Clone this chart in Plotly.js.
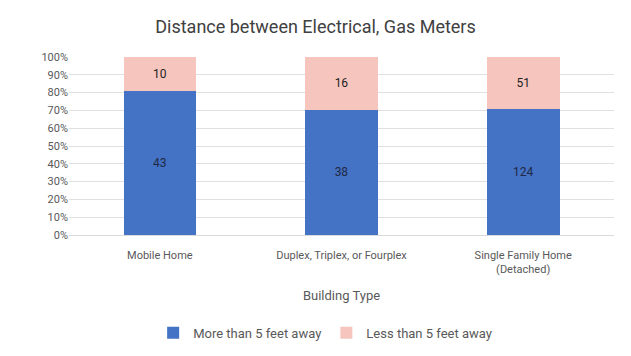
<!DOCTYPE html>
<html><head><meta charset="utf-8">
<script src="https://cdn.plot.ly/plotly-3.0.1.min.js"></script>
<style>html,body{margin:0;padding:0;background:#fff;}#chart{width:631px;height:356px;}</style>
</head><body><div id="chart"></div>
<script>
const categories = ['Mobile Home', 'Duplex, Triplex, or Fourplex', 'Single Family Home<br>(Detached)'];
const moreThan5 = [43, 38, 124];
const lessThan5 = [10, 16, 51];
const seriesNames = ['More than 5 feet away', 'Less than 5 feet away'];

const traces = [
  {type:'bar', x:categories, y:moreThan5, name:seriesNames[0], text:moreThan5.map(String),
   textposition:'inside', insidetextanchor:'middle', textfont:{color:'#1f2a44', size:12},
   marker:{color:'#4472C4'}, hoverinfo:'none'},
  {type:'bar', x:categories, y:lessThan5, name:seriesNames[1], text:lessThan5.map(String),
   textposition:'inside', insidetextanchor:'middle', textfont:{color:'#222', size:12},
   marker:{color:'#F6C6BE'}, hoverinfo:'none'}
];
const layout = {
  width:631, height:356,
  margin:{l:69, r:17, t:57, b:121, autoexpand:false},
  barmode:'stack', barnorm:'percent', bargap:0.6,
  font:{family:'Roboto, "Liberation Sans", sans-serif', color:'#595959'},
  title:{text:'Distance between Electrical, Gas Meters', x:0.5, xanchor:'center', y:0.925, yanchor:'middle',
         font:{size:18, color:'#404040'}, automargin:false},
  xaxis:{type:'category', tickfont:{size:11, color:'#595959'}, showline:false, ticks:'',
         ticklabelstandoff:12, automargin:false,
         title:{text:'Building Type', font:{size:13, color:'#595959'}, standoff:15}},
  yaxis:{range:[0,100], dtick:10, ticksuffix:'%', tickfont:{size:11, color:'#595959'}, automargin:false,
         gridcolor:'#e0e0e0', gridwidth:1, zeroline:true, zerolinecolor:'#d9d9d9', fixedrange:true},
  legend:{orientation:'h', traceorder:'normal', x:0.47, xanchor:'center', yref:'container', y:0.107, yanchor:'top',
          font:{size:13, color:'#595959'}},
  showlegend:true,
  paper_bgcolor:'#fff', plot_bgcolor:'#fff'
};
Plotly.newPlot('chart', traces, layout, {staticPlot:true, displayModeBar:false});
</script></body></html>
